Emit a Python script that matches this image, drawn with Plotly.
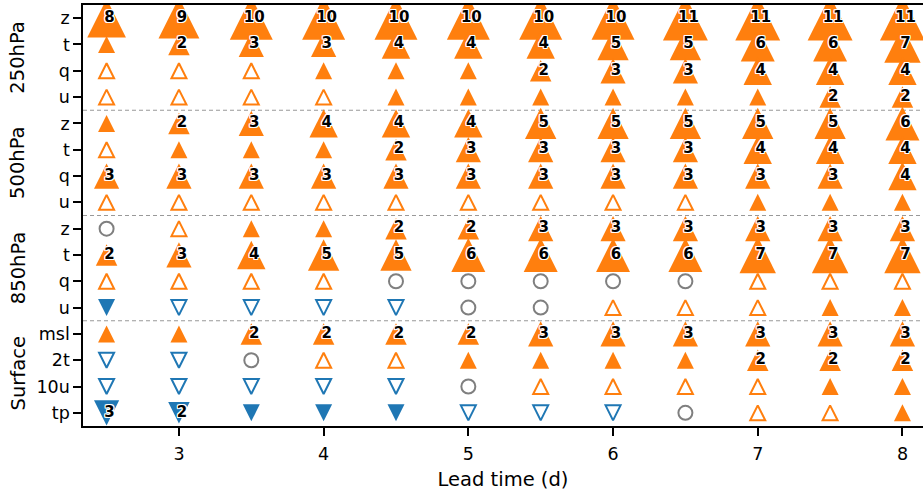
import math
import plotly.graph_objects as go

# Lead times (days) along the x axis
lead_times = [2.5, 3.0, 3.5, 4.0, 4.5, 5.0, 5.5, 6.0, 6.5, 7.0, 7.5, 8.0]

# Variables grouped by level (top to bottom)
levels = ["250hPa", "500hPa", "850hPa", "Surface"]
level_vars = [["z", "t", "q", "u"], ["z", "t", "q", "u"],
              ["z", "t", "q", "u"], ["msl", "2t", "10u", "tp"]]

# Scorecard entries per variable and lead time:
#   positive int n  -> significant improvement (filled up-triangle, size ~ n)
#   negative int -n -> significant degradation (filled down-triangle)
#   "+" -> non-significant improvement, "-" -> non-significant degradation,
#   "=" -> neutral
z250 = [8, 9, 10, 10, 10, 10, 10, 10, 11, 11, 11, 11]
t250 = [1, 2, 3, 3, 4, 4, 4, 5, 5, 6, 6, 7]
q250 = ["+", "+", "+", 1, 1, 1, 2, 3, 3, 4, 4, 4]
u250 = ["+", "+", "+", "+", 1, 1, 1, 1, 1, 1, 2, 2]
z500 = [1, 2, 3, 4, 4, 4, 5, 5, 5, 5, 5, 6]
t500 = ["+", 1, 1, 1, 2, 3, 3, 3, 3, 4, 4, 4]
q500 = [3, 3, 3, 3, 3, 3, 3, 3, 3, 3, 3, 4]
u500 = ["+", "+", "+", "+", "+", "+", "+", "+", "+", 1, 1, 1]
z850 = ["=", "+", 1, 1, 2, 2, 3, 3, 3, 3, 3, 3]
t850 = [2, 3, 4, 5, 5, 6, 6, 6, 6, 7, 7, 7]
q850 = ["+", "+", "+", "+", "=", "=", "=", "=", "=", "+", "+", "+"]
u850 = [-1, "-", "-", "-", "-", "=", "=", "+", "+", "+", 1, 1]
msl = [1, 1, 2, 2, 2, 2, 3, 3, 3, 3, 3, 3]
t2m = ["-", "-", "=", "+", "+", 1, 1, 1, 1, 2, 2, 2]
u10 = ["-", "-", "-", "-", "-", "=", "+", "+", "+", "+", 1, 1]
tp = [-3, -2, -1, -1, -1, "-", "-", "-", "=", "+", "+", 1]

scores = [z250, t250, q250, u250, z500, t500, q500, u500,
          z850, t850, q850, u850, msl, t2m, u10, tp]

ORANGE = "#ff7f0e"
BLUE = "#1f77b4"
GREY = "#7f7f7f"

# Figure geometry
W, H = 923, 491
M_L, M_R, M_T, M_B = 83, 0, 5, 65
X_RANGE = [2.337, 8.142]
n_rows = sum(len(v) for v in level_vars)
PX_PER_ROW = (H - M_T - M_B) / n_rows
PX_PER_DAY = (W - M_L - M_R) / (X_RANGE[1] - X_RANGE[0])

row_labels = [v for group in level_vars for v in group]


def tri_size(n):
    # marker area grows linearly with the count
    return math.sqrt(116 + 173 * abs(n))


OPEN_SIZE = 15
CIRCLE_SIZE = 14

buckets = {k: {"x": [], "y": [], "s": []} for k in ["F+", "O+", "C", "O-", "F-"]}
lab_x, lab_y, lab_t = [], [], []

for r, row in enumerate(scores):
    for lt, v in zip(lead_times, row):
        if isinstance(v, int):
            s = tri_size(v)
            # arrow symbols have their apex at the data point; shift to centre
            if v > 0:
                b, yy = "F+", r - (s / 2) / PX_PER_ROW
            else:
                b, yy = "F-", r + (s / 2) / PX_PER_ROW
            buckets[b]["x"].append(lt)
            buckets[b]["y"].append(yy)
            buckets[b]["s"].append(s)
            if abs(v) >= 2:
                lab_x.append(lt + 3 / PX_PER_DAY)
                lab_y.append(r)
                lab_t.append(str(abs(v)))
        elif v == "+":
            buckets["O+"]["x"].append(lt)
            buckets["O+"]["y"].append(r - (OPEN_SIZE / 2) / PX_PER_ROW)
            buckets["O+"]["s"].append(OPEN_SIZE)
        elif v == "-":
            buckets["O-"]["x"].append(lt)
            buckets["O-"]["y"].append(r + (OPEN_SIZE / 2) / PX_PER_ROW)
            buckets["O-"]["s"].append(OPEN_SIZE)
        else:
            buckets["C"]["x"].append(lt)
            buckets["C"]["y"].append(r)
            buckets["C"]["s"].append(CIRCLE_SIZE)

styles = {
    "O+": dict(symbol="arrow-up-open", color=ORANGE, line=dict(color=ORANGE, width=2)),
    "O-": dict(symbol="arrow-down-open", color=BLUE, line=dict(color=BLUE, width=2)),
    "C": dict(symbol="circle-open", color=GREY, line=dict(color=GREY, width=2)),
    "F+": dict(symbol="arrow-up", color=ORANGE, line=dict(width=0)),
    "F-": dict(symbol="arrow-down", color=BLUE, line=dict(width=0)),
}

fig = go.Figure()
for key in ["O+", "O-", "C", "F+", "F-"]:
    b = buckets[key]
    fig.add_trace(go.Scatter(
        x=b["x"], y=b["y"], mode="markers",
        marker=dict(size=b["s"], opacity=1, **styles[key]),
        showlegend=False, hoverinfo="skip",
    ))

fig.add_trace(go.Scatter(
    x=lab_x, y=lab_y, mode="text", text=lab_t,
    textposition="middle center",
    textfont=dict(family="DejaVu Sans", size=15, color="black", weight="bold",
                  shadow="-1px -1px 0 #fff, 1px -1px 0 #fff, -1px 1px 0 #fff, "
                         "1px 1px 0 #fff, 0 1px 0 #fff, 0 -1px 0 #fff, "
                         "1px 0 0 #fff, -1px 0 0 #fff"),
    showlegend=False, hoverinfo="skip",
))

# Dashed separators between level groups and rotated group labels
shapes, annotations = [], []
start = 0
for name, group in zip(levels, level_vars):
    end = start + len(group)
    if end < n_rows:
        shapes.append(dict(type="line", xref="paper", x0=0, x1=1, yref="y",
                           y0=end - 0.5, y1=end - 0.5,
                           line=dict(color="#999999", width=1.2, dash="4px,3px"),
                           layer="below"))
    annotations.append(dict(text=name, xref="paper", x=(18 - M_L) / (W - M_L - M_R),
                            yref="y", y=(start + end - 1) / 2, textangle=-90,
                            showarrow=False, xanchor="center", yanchor="middle",
                            font=dict(family="DejaVu Sans", size=19.5, color="black")))
    start = end

fig.update_layout(
    width=W, height=H,
    margin=dict(l=M_L, r=M_R, t=M_T, b=M_B),
    paper_bgcolor="white", plot_bgcolor="white",
    font=dict(family="DejaVu Sans", size=17.5, color="black"),
    shapes=shapes, annotations=annotations,
)
fig.update_xaxes(
    range=X_RANGE, tickvals=[3, 4, 5, 6, 7, 8], ticks="outside", ticklen=8,
    tickwidth=1.5, tickcolor="black", showgrid=False, zeroline=False,
    showline=True, linecolor="black", linewidth=1.5, mirror=True,
    ticklabelstandoff=3,
    title=dict(text="Lead time (d)", standoff=12,
               font=dict(family="DejaVu Sans", size=19.5, color="black")),
    tickfont=dict(size=17.5),
)
fig.update_yaxes(
    range=[n_rows - 0.5, -0.5], tickvals=list(range(n_rows)), ticktext=row_labels,
    ticks="outside", ticklen=8, tickwidth=1.5, tickcolor="black",
    showgrid=False, zeroline=False, showline=True, linecolor="black", linewidth=1.5,
    tickfont=dict(size=17.5),
)

fig.write_html("out.html")
